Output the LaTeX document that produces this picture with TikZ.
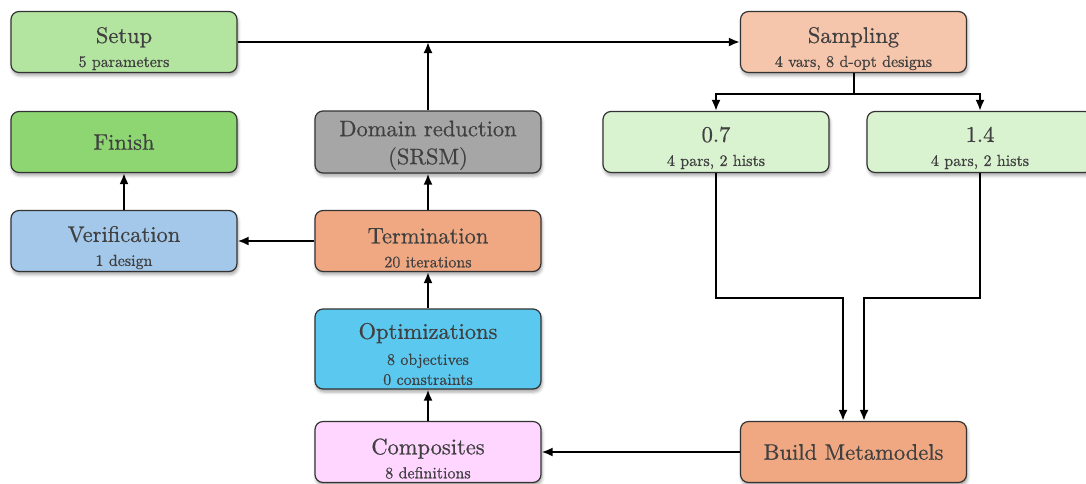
\documentclass[tikz,border=0pt]{standalone}
\usepackage{fontspec}
\newfontfamily\rf{lmroman10-regular}[Extension=.otf, FakeBold=0.7]
\usetikzlibrary{arrows.meta,shadows.blur}
\definecolor{csetup}{HTML}{B3E5A0}
\definecolor{cfinish}{HTML}{8DD672}
\definecolor{cverif}{HTML}{A4C8EA}
\definecolor{cdomain}{HTML}{A6A6A6}
\definecolor{cterm}{HTML}{F0A882}
\definecolor{copt}{HTML}{5BC8F0}
\definecolor{ccomp}{HTML}{FFD6FF}
\definecolor{csamp}{HTML}{F5C6AB}
\definecolor{cbranch}{HTML}{D9F2D0}
\definecolor{cbm}{HTML}{F0A882}
\definecolor{ctext}{HTML}{404040}
\newcommand\tf{\rf\fontsize{22.5}{24}\selectfont}
\newcommand\subf{\rf\fontsize{16}{19}\selectfont}
\newcommand\tstrut[1]{\rule{0pt}{#1}}
\begin{document}
\begin{tikzpicture}[x=1pt,y=-1pt,
  box/.style={draw=black!80, line width=1.2pt, rounded corners=8pt,
    minimum width=226pt, minimum height=61pt, align=center, text=ctext,
    font=\subf, inner sep=0pt,
    blur shadow={shadow xshift=1pt, shadow yshift=-3pt, shadow blur radius=3pt, shadow opacity=35}},
  arr/.style={-{Latex[length=11pt,width=9pt]}, line width=2pt},
  ln/.style={line width=2pt}]
\useasboundingbox (0,0) rectangle (1086,483);

\node[box, fill=csetup] (setup) at (124,42) {\tstrut{29pt}{\tf Setup}\\[5pt]5 parameters};
\node[box, fill=cfinish, font=\tf] (finish) at (124,142) {Finish};
\node[box, fill=cverif] (verif) at (124,241) {\tstrut{29pt}{\tf Verification}\\[5pt]1 design};
\node[box, fill=cdomain, font=\tf, minimum height=62pt] (domain) at (428,142) {\tstrut{22pt}Domain reduction\\[4pt](SRSM)};
\node[box, fill=cterm] (term) at (428,241) {\tstrut{29pt}{\tf Termination}\\[5pt]20 iterations};
\node[box, fill=copt, minimum height=80pt] (opt) at (428,349) {\tstrut{26pt}{\tf Optimizations}\\[7pt]8 objectives\\[1pt]0 constraints};
\node[box, fill=ccomp] (comp) at (428,452) {\tstrut{29pt}{\tf Composites}\\[5pt]8 definitions};
\node[box, fill=csamp] (samp) at (853.5,42) {\tstrut{29pt}{\tf Sampling}\\[5pt]4 vars, 8 d-opt designs};
\node[box, fill=cbranch] (b07) at (716,142) {\tstrut{27pt}{\tf 0.7}\\[5pt]4 pars, 2 hists};
\node[box, fill=cbranch] (b14) at (980,142) {\tstrut{27pt}{\tf 1.4}\\[5pt]4 pars, 2 hists};
\node[box, fill=cbm, font=\tf] (bm) at (853.5,452) {Build Metamodels};

\coordinate (j1) at (428,42);
\draw[arr] (setup.east) -- (samp.west);
\draw[arr] (domain.north) -- (j1);
\draw[arr] (term.north) -- (domain.south);
\draw[arr] (opt.north) -- (term.south);
\draw[arr] (comp.north) -- (opt.south);
\draw[arr] (term.west) -- (verif.east);
\draw[arr] (verif.north) -- (finish.south);
\draw[ln] (samp.south) -- ++(0,20.5) coordinate (split);
\draw[arr] (split) -| (b07.north);
\draw[arr] (split) -| (b14.north);
\draw[arr] (b07.south) -- ++(0,124.5) -| ([xshift=-10.5pt]bm.north);
\draw[arr] (b14.south) -- ++(0,124.5) -| ([xshift=10.5pt]bm.north);
\draw[arr] (bm.west) -- (comp.east);
\end{tikzpicture}
\end{document}
